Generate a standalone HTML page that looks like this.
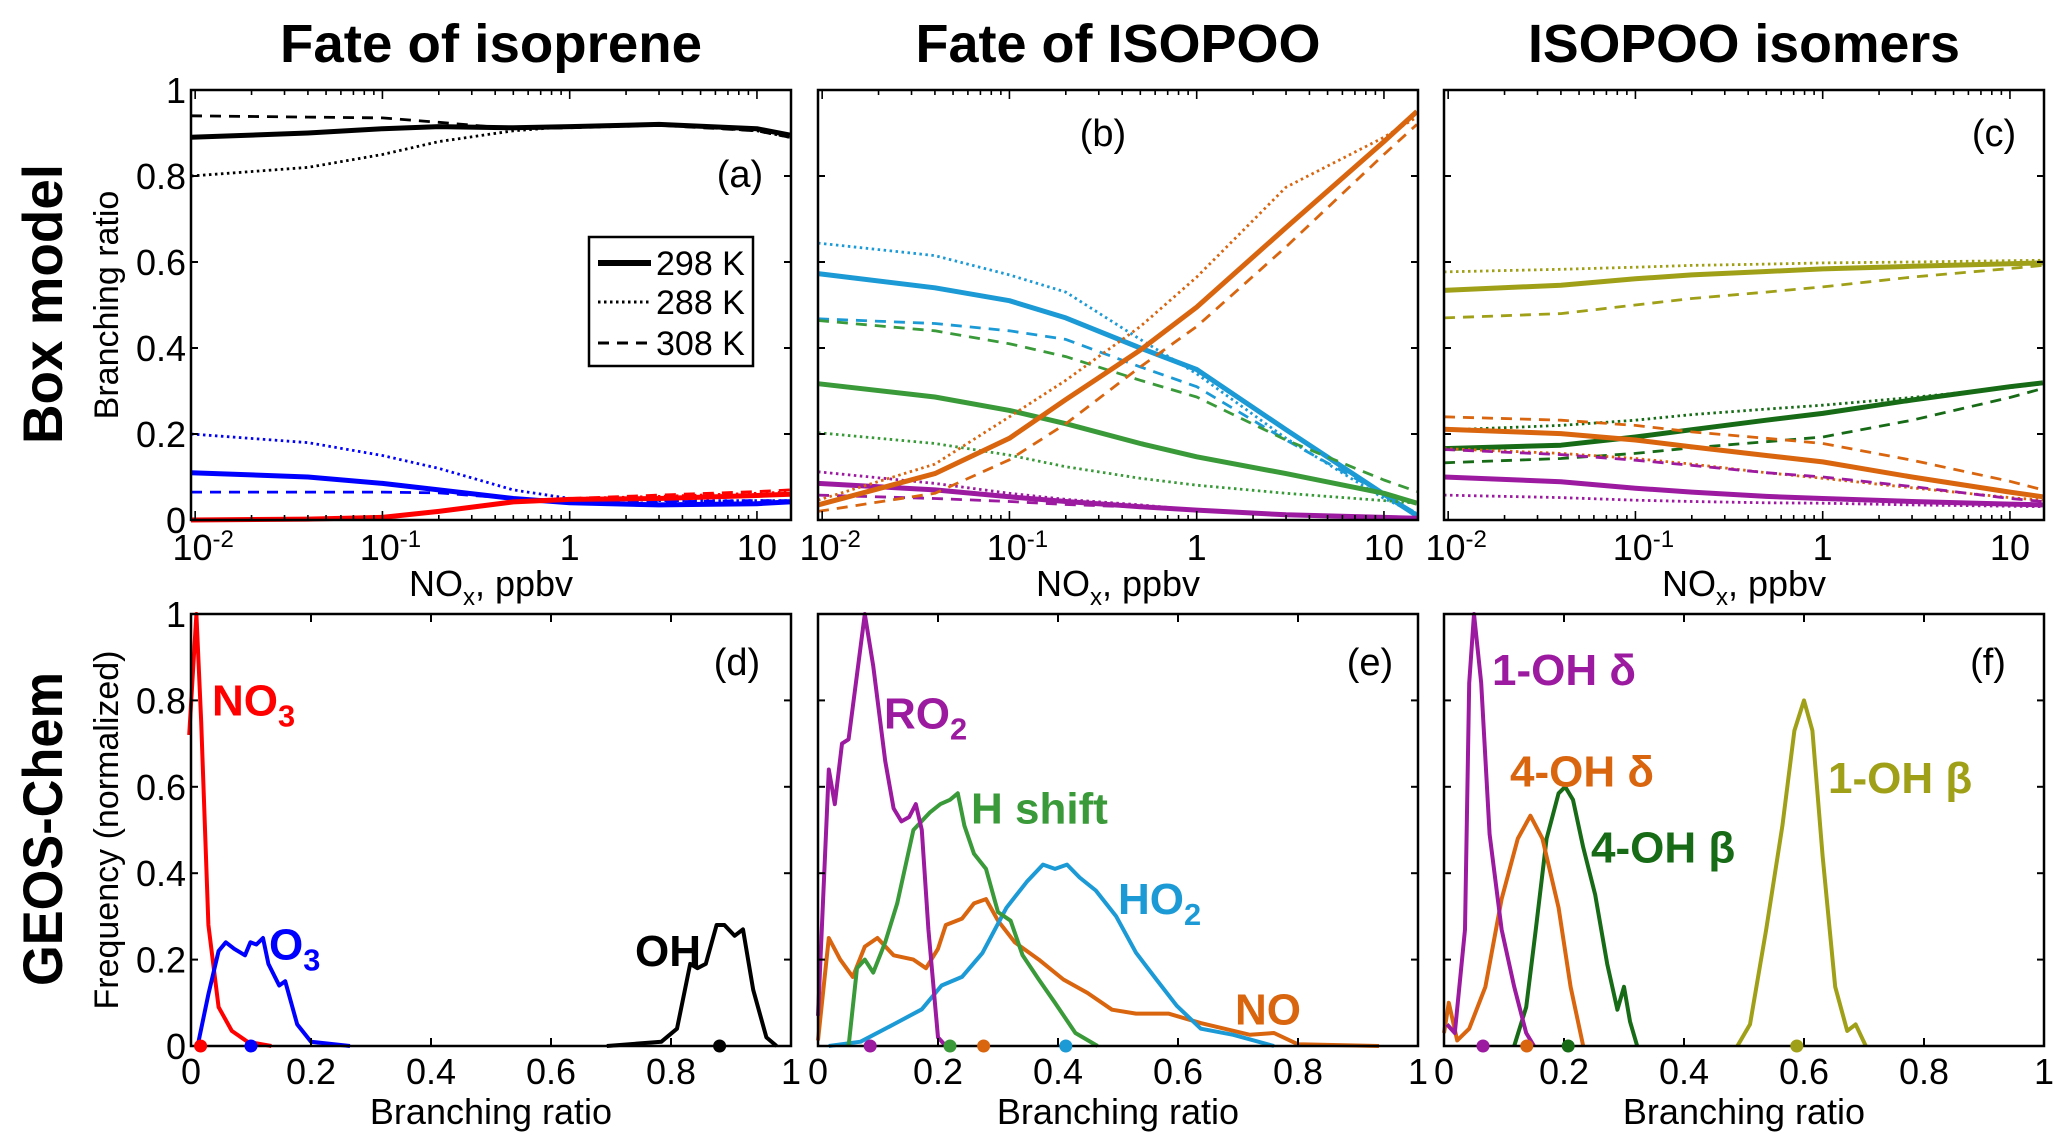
<!DOCTYPE html>
<html><head><meta charset="utf-8"><style>
html,body{margin:0;padding:0;background:#fff;}
svg{display:block;font-family:"Liberation Sans Narrow","Liberation Sans",sans-serif;}
</style></head><body>
<svg id="fig" width="2067" height="1146" viewBox="0 0 2067 1146" xmlns="http://www.w3.org/2000/svg"></svg>
<script>
// ---------- data ----------
const noxGrid = [0.0095, 0.04, 0.1, 0.2, 0.5, 1, 3, 10, 15];
// panel a
const aOHsolid  = [0.89,0.90,0.91,0.915,0.912,0.915,0.92,0.91,0.895];
const aOHdot    = [0.80,0.82,0.85,0.88,0.905,0.915,0.92,0.905,0.89];
const aOHdash   = [0.94,0.937,0.935,0.925,0.91,0.912,0.918,0.905,0.89];
const aO3solid  = [0.11,0.10,0.085,0.07,0.05,0.04,0.035,0.038,0.042];
const aO3dot    = [0.20,0.18,0.15,0.12,0.07,0.05,0.045,0.045,0.045];
const aO3dash   = [0.065,0.065,0.065,0.063,0.05,0.045,0.042,0.045,0.045];
const aNO3solid = [0.0,0.002,0.006,0.02,0.042,0.048,0.05,0.057,0.06];
const aNO3dot   = [0.0,0.002,0.006,0.02,0.042,0.05,0.055,0.062,0.065];
const aNO3dash  = [0.0,0.002,0.006,0.02,0.042,0.05,0.058,0.066,0.07];
// panel b
const bHO2solid = [.573,.54,.51,.47,.40,.35,.21,.06,.01];
const bHO2dot   = [.644,.615,.57,.53,.42,.34,.19,.05,.015];
const bHO2dash  = [.468,.457,.44,.42,.356,.31,.186,.06,.015];
const bHsolid   = [.317,.286,.255,.224,.178,.147,.108,.062,.039];
const bHdot     = [.203,.178,.151,.124,.097,.081,.062,.045,.039];
const bHdash    = [.464,.44,.41,.38,.325,.286,.186,.093,.066];
const bRO2solid = [.085,.07,.054,.043,.031,.023,.012,.006,.004];
const bRO2dot   = [.112,.085,.062,.048,.035,.023,.012,.006,.004];
const bRO2dash  = [.058,.05,.043,.036,.03,.023,.012,.006,.004];
const bNOsolid  = [.035,.108,.19,.28,.395,.495,.68,.88,.95];
const bNOdot    = [.046,.13,.24,.325,.45,.565,.774,.89,.937];
const bNOdash   = [.02,.062,.14,.224,.356,.45,.635,.85,.92];
// panel c
const c1bSolid = [.534,.546,.561,.57,.578,.584,.59,.596,.598];
const c1bDot   = [.577,.583,.588,.592,.595,.598,.6,.603,.604];
const c1bDash  = [.47,.48,.50,.515,.53,.542,.565,.585,.592];
const c4bSolid = [.166,.174,.193,.21,.232,.248,.279,.31,.319];
const c4bDot   = [.209,.22,.232,.245,.258,.267,.285,.308,.317];
const c4bDash  = [.133,.143,.155,.168,.182,.193,.232,.285,.306];
const c4dSolid = [.211,.201,.186,.17,.15,.135,.1,.065,.054];
const c4dDot   = [.166,.155,.143,.13,.11,.097,.075,.052,.046];
const c4dDash  = [.24,.232,.22,.205,.19,.178,.139,.09,.07];
const c1dSolid = [.1,.089,.074,.065,.055,.05,.043,.037,.035];
const c1dDot   = [.058,.052,.046,.043,.04,.039,.035,.032,.031];
const c1dDash  = [.164,.152,.139,.127,.11,.1,.078,.05,.043];
// panel d
const dNO3x = [-0.003,0.009,0.017,0.029,0.046,0.068,0.094,0.134];
const dNO3y = [0.72,1.0,0.75,0.28,0.09,0.035,0.01,0.0];
const dO3x = [0.011,0.029,0.046,0.058,0.072,0.09,0.099,0.109,0.12,0.129,0.147,0.157,0.177,0.2,0.265];
const dO3y = [0,0.12,0.22,0.24,0.225,0.21,0.24,0.235,0.25,0.19,0.14,0.15,0.05,0.01,0];
const dOHx = [0.693,0.784,0.81,0.832,0.844,0.858,0.876,0.889,0.906,0.92,0.937,0.959,0.976];
const dOHy = [0,0.01,0.04,0.19,0.18,0.19,0.28,0.28,0.255,0.27,0.13,0.02,0];
const dMeans = [0.016,0.1,0.881];
// panel e
const eRO2x = [0,0.018,0.028,0.04,0.051,0.065,0.078,0.092,0.112,0.126,0.139,0.152,0.163,0.173,0.184,0.2,0.213];
const eRO2y = [0.07,0.64,0.56,0.70,0.71,0.86,1.0,0.88,0.66,0.55,0.52,0.53,0.56,0.50,0.27,0.02,0];
const eHx = [0.051,0.065,0.078,0.092,0.112,0.132,0.159,0.186,0.204,0.22,0.233,0.244,0.26,0.28,0.3,0.321,0.341,0.368,0.395,0.429,0.466];
const eHy = [0,0.18,0.2,0.17,0.24,0.33,0.5,0.54,0.56,0.57,0.585,0.51,0.445,0.41,0.31,0.29,0.21,0.154,0.1,0.03,0];
const eHO2x = [0.018,0.071,0.126,0.173,0.206,0.24,0.274,0.314,0.348,0.375,0.395,0.415,0.436,0.463,0.497,0.53,0.564,0.598,0.638,0.692,0.76];
const eHO2y = [0,0.01,0.05,0.085,0.14,0.16,0.215,0.32,0.38,0.42,0.41,0.42,0.39,0.36,0.3,0.216,0.154,0.093,0.04,0.026,0];
const eNOx = [0,0.018,0.037,0.058,0.078,0.099,0.126,0.159,0.18,0.2,0.213,0.24,0.26,0.28,0.3,0.328,0.368,0.409,0.449,0.49,0.53,0.584,0.638,0.72,0.76,0.8,0.935];
const eNOy = [0.013,0.25,0.2,0.16,0.23,0.25,0.21,0.2,0.18,0.225,0.28,0.295,0.33,0.34,0.29,0.24,0.2,0.154,0.123,0.084,0.075,0.075,0.053,0.026,0.03,0.004,0];
const eMeans = [0.087,0.22,0.276,0.413];
// panel f
const f1dx = [0.005,0.018,0.035,0.042,0.05,0.062,0.076,0.096,0.117,0.137,0.15];
const f1dy = [0.05,0.03,0.27,0.84,1.0,0.84,0.49,0.27,0.137,0.03,0];
const f4dx = [0,0.008,0.022,0.042,0.069,0.096,0.123,0.144,0.164,0.191,0.211,0.232];
const f4dy = [0.03,0.1,0.013,0.04,0.137,0.34,0.48,0.533,0.48,0.32,0.137,0];
const f4bx = [0.117,0.137,0.153,0.171,0.191,0.202,0.215,0.232,0.252,0.272,0.289,0.3,0.31,0.322];
const f4by = [0,0.09,0.27,0.48,0.585,0.6,0.57,0.46,0.35,0.19,0.084,0.137,0.057,0];
const f1bx = [0.489,0.51,0.537,0.564,0.584,0.6,0.614,0.631,0.652,0.672,0.686,0.703];
const f1by = [0,0.05,0.27,0.51,0.73,0.8,0.73,0.44,0.137,0.035,0.05,0];
const fMeans = [0.065,0.138,0.207,0.588];

const yTicks = [0,0.2,0.4,0.6,0.8,1];
const yTickLabels = ["0","0.2","0.4","0.6","0.8","1"];
const xLinTicks = [0,0.2,0.4,0.6,0.8,1];
const xLinTickLabels = ["0","0.2","0.4","0.6","0.8","1"];

// ---------- drawing ----------
const NS = "http://www.w3.org/2000/svg";
const svg = document.getElementById('fig');
function el(tag, attrs, parent, text){
  const e = document.createElementNS(NS, tag);
  for (const k in attrs) e.setAttribute(k, attrs[k]);
  if (text !== undefined) e.textContent = text;
  (parent||svg).appendChild(e);
  return e;
}
const colL = [191, 818, 1444], W = 600;
const topY = [90, 614], H = [430, 432];
const LMIN = Math.log10(0.0095), LMAX = Math.log10(15.2);
function logX(p, v){ return colL[p] + (Math.log10(v)-LMIN)/(LMAX-LMIN)*W; }
function linX(p, v){ return colL[p] + v*W; }
function yS(r, v){ return topY[r] + H[r] - v*H[r]; }
const dashes = {solid:"", dot:"2.5 3.5", dash:"11 8"};
const TF = 36;

function frame(p, r, name){
  const g = el('g', {}, svg);
  
  
  return g;
}
function axesBox(g, p, r){
  const x0 = colL[p], y0 = topY[r];
  const b = el('rect', {x:x0, y:y0, width:W, height:H[r], fill:'none', stroke:'#000', 'stroke-width':2.5}, g);
   
  yTicks.forEach((t,i)=>{
    const y = yS(r,t);
    el('line',{x1:x0,y1:y,x2:x0+7,y2:y,stroke:'#000','stroke-width':2},g);
    el('line',{x1:x0+W,y1:y,x2:x0+W-7,y2:y,stroke:'#000','stroke-width':2},g);
    if (p===0){
      const tl = el('text',{x:x0-5,y:y+13,'text-anchor':'end','font-size':TF,fill:'#000'},g,yTickLabels[i]);
       
    }
  });
}
function logAxis(g, p){
  const yb = yS(0,0), yt = topY[0];
  for (let e=-3; e<=1; e++){
    for (let m=1;m<=9;m++){
      const v = m*Math.pow(10,e);
      if (v < 0.0095 || v > 15.2) continue;
      const x = logX(p,v), len = m===1?9:5;
      el('line',{x1:x,y1:yb,x2:x,y2:yb-len,stroke:'#000','stroke-width':1.6},g);
      el('line',{x1:x,y1:yt,x2:x,y2:yt+len,stroke:'#000','stroke-width':1.6},g);
    }
  }
  const labs = [[0.01,'10','-2'],[0.1,'10','-1'],[1,'1',''],[10,'10','']];
  labs.forEach(l=>{
    const x = logX(p,l[0]);
    const t = el('text',{x:x+(l[2]?8:0),y:yb+40,'text-anchor':'middle','font-size':TF},g);
     
    el('tspan',{},t,l[1]);
    if(l[2]) el('tspan',{dy:-13,'font-size':24},t,l[2]);
  });
  const xl = el('text',{x:colL[p]+W/2,y:yb+76,'text-anchor':'middle','font-size':TF},g);
   
  el('tspan',{},xl,'NO');
  el('tspan',{dy:9,'font-size':24},xl,'x');
  el('tspan',{dy:-9},xl,', ppbv');
}
function linAxis(g, p){
  const yb = yS(1,0), yt = topY[1];
  xLinTicks.forEach((t,i)=>{
    const x = linX(p,t);
    el('line',{x1:x,y1:yb,x2:x,y2:yb-8,stroke:'#000','stroke-width':2},g);
    el('line',{x1:x,y1:yt,x2:x,y2:yt+8,stroke:'#000','stroke-width':2},g);
    const tl = el('text',{x:x,y:yb+38,'text-anchor':'middle','font-size':TF},g,xLinTickLabels[i]);
     
  });
  const xl = el('text',{x:colL[p]+W/2,y:yb+78,'text-anchor':'middle','font-size':TF},g,'Branching ratio');
   
}
function logSeries(g, p, ys, color, style, name){
  const pts = ys.map((v,i)=>logX(p,noxGrid[i]).toFixed(1)+','+yS(0,v).toFixed(1)).join(' ');
  const l = el('polyline',{points:pts,fill:'none',stroke:color,'stroke-width':style==='solid'?5:2.8,'stroke-dasharray':dashes[style],'stroke-linejoin':'round'},g);
  
  
}
function linSeries(g, p, xs, ys, color, name){
  const pts = xs.map((x,i)=>linX(p,x).toFixed(1)+','+yS(1,ys[i]).toFixed(1)).join(' ');
  const l = el('polyline',{points:pts,fill:'none',stroke:color,'stroke-width':4,'stroke-linejoin':'round'},g);
  
  
}
function meanDots(g, p, means, colors){
  means.forEach((m,i)=>{
    const c = el('circle',{cx:linX(p,m),cy:yS(1,0),r:6.5,fill:colors[i]},g);
    
    
  });
}
function label(g, x, y, txt, sub, color, size, name){
  const t = el('text',{x:x,y:y,'font-size':size,'font-weight':'bold',fill:color},g);
   
  el('tspan',{},t,txt);
  if (sub) el('tspan',{dy:11,'font-size':size*0.7},t,sub);
  return t;
}
function panelLetter(g, x, y, txt){
  const t = el('text',{x:x,y:y,'text-anchor':'middle','font-size':38},g,txt);
   
}

const BLK='#000', BLU='#0000ff', RED='#ff0000';
const SKY='#1b9ad6', GRN='#3a9a3a', PUR='#9c1aa0', ORG='#d9650f';
const OLV='#a0a018', DGR='#176b17';

// titles
[['Fate of isoprene',0,422],['Fate of ISOPOO',1,405],['ISOPOO isomers',2,432]].forEach(t=>{
  const e = el('text',{x:colL[t[1]]+W/2,y:62,'text-anchor':'middle','font-size':54,'font-weight':'bold',textLength:t[2],lengthAdjust:'spacingAndGlyphs'},svg,t[0]);
   
});
const rl1 = el('text',{x:0,y:0,'text-anchor':'middle','font-size':56,'font-weight':'bold',textLength:280,lengthAdjust:'spacingAndGlyphs',transform:'translate(62,304) rotate(-90)'},svg,'Box model');
 
const rl2 = el('text',{x:0,y:0,'text-anchor':'middle','font-size':56,'font-weight':'bold',textLength:314,lengthAdjust:'spacingAndGlyphs',transform:'translate(62,829) rotate(-90)'},svg,'GEOS-Chem');
 
const yl1 = el('text',{x:0,y:0,'text-anchor':'middle','font-size':34,transform:'translate(118,305) rotate(-90)'},svg,'Branching ratio');
 
const yl2 = el('text',{x:0,y:0,'text-anchor':'middle','font-size':34,transform:'translate(118,830) rotate(-90)'},svg,'Frequency (normalized)');
 

// panel a
let g = frame(0,0,'panel-a');
logSeries(g,0,aOHsolid,BLK,'solid','oh-298k'); logSeries(g,0,aOHdot,BLK,'dot','oh-288k'); logSeries(g,0,aOHdash,BLK,'dash','oh-308k');
logSeries(g,0,aO3solid,BLU,'solid','o3-298k'); logSeries(g,0,aO3dot,BLU,'dot','o3-288k'); logSeries(g,0,aO3dash,BLU,'dash','o3-308k');
logSeries(g,0,aNO3solid,RED,'solid','no3-298k'); logSeries(g,0,aNO3dot,RED,'dot','no3-288k'); logSeries(g,0,aNO3dash,RED,'dash','no3-308k');
axesBox(g,0,0); logAxis(g,0); panelLetter(g,740,187,'(a)');
const lg = el('g',{},g);  
el('rect',{x:589,y:237,width:164,height:129,fill:'#fff',stroke:'#000','stroke-width':2.5},lg);
[['solid','298 K',263],['dot','288 K',302],['dash','308 K',343]].forEach(e=>{
  const le = el('g',{},lg);  
  el('line',{x1:598,y1:e[2],x2:651,y2:e[2],stroke:'#000','stroke-width':e[0]==='solid'?6:3,'stroke-dasharray':dashes[e[0]]},le);
  el('text',{x:656,y:e[2]+12,'font-size':34},le,e[1]);
});

// panel b
g = frame(1,0,'panel-b');
logSeries(g,1,bHO2solid,SKY,'solid','ho2-298k'); logSeries(g,1,bHO2dot,SKY,'dot','ho2-288k'); logSeries(g,1,bHO2dash,SKY,'dash','ho2-308k');
logSeries(g,1,bHsolid,GRN,'solid','hshift-298k'); logSeries(g,1,bHdot,GRN,'dot','hshift-288k'); logSeries(g,1,bHdash,GRN,'dash','hshift-308k');
logSeries(g,1,bRO2solid,PUR,'solid','ro2-298k'); logSeries(g,1,bRO2dot,PUR,'dot','ro2-288k'); logSeries(g,1,bRO2dash,PUR,'dash','ro2-308k');
logSeries(g,1,bNOsolid,ORG,'solid','no-298k'); logSeries(g,1,bNOdot,ORG,'dot','no-288k'); logSeries(g,1,bNOdash,ORG,'dash','no-308k');
axesBox(g,1,0); logAxis(g,1); panelLetter(g,1103,146,'(b)');

// panel c
g = frame(2,0,'panel-c');
logSeries(g,2,c1bSolid,OLV,'solid','1oh-beta-298k'); logSeries(g,2,c1bDot,OLV,'dot','1oh-beta-288k'); logSeries(g,2,c1bDash,OLV,'dash','1oh-beta-308k');
logSeries(g,2,c4bSolid,DGR,'solid','4oh-beta-298k'); logSeries(g,2,c4bDot,DGR,'dot','4oh-beta-288k'); logSeries(g,2,c4bDash,DGR,'dash','4oh-beta-308k');
logSeries(g,2,c4dSolid,ORG,'solid','4oh-delta-298k'); logSeries(g,2,c4dDot,ORG,'dot','4oh-delta-288k'); logSeries(g,2,c4dDash,ORG,'dash','4oh-delta-308k');
logSeries(g,2,c1dSolid,PUR,'solid','1oh-delta-298k'); logSeries(g,2,c1dDot,PUR,'dot','1oh-delta-288k'); logSeries(g,2,c1dDash,PUR,'dash','1oh-delta-308k');
axesBox(g,2,0); logAxis(g,2); panelLetter(g,1994,146,'(c)');

// panel d
g = frame(0,1,'panel-d');
linSeries(g,0,dNO3x,dNO3y,RED,'no3-histogram'); linSeries(g,0,dO3x,dO3y,BLU,'o3-histogram'); linSeries(g,0,dOHx,dOHy,BLK,'oh-histogram');
axesBox(g,0,1); linAxis(g,0); meanDots(g,0,dMeans,[RED,BLU,BLK]); panelLetter(g,737,675,'(d)');
label(g,linX(0,0.035),yS(1,0.80)+15,'NO','3',RED,44,'no3-label');
label(g,linX(0,0.13),yS(1,0.235)+15,'O','3',BLU,44,'o3-label');
label(g,linX(0,0.74),yS(1,0.22)+15,'OH','',BLK,44,'oh-label');

// panel e
g = frame(1,1,'panel-e');
linSeries(g,1,eNOx,eNOy,ORG,'no-histogram'); linSeries(g,1,eHO2x,eHO2y,SKY,'ho2-histogram');
linSeries(g,1,eHx,eHy,GRN,'hshift-histogram'); linSeries(g,1,eRO2x,eRO2y,PUR,'ro2-histogram');
axesBox(g,1,1); linAxis(g,1); meanDots(g,1,eMeans,[PUR,GRN,ORG,SKY]); panelLetter(g,1370,675,'(e)');
label(g,linX(1,0.11),yS(1,0.77)+15,'RO','2',PUR,44,'ro2-label');
label(g,linX(1,0.255),yS(1,0.55)+15,'H shift','',GRN,44,'hshift-label');
label(g,linX(1,0.5),yS(1,0.34)+15,'HO','2',SKY,44,'ho2-label');
label(g,linX(1,0.695),yS(1,0.085)+15,'NO','',ORG,44,'no-label');

// panel f
g = frame(2,1,'panel-f');
linSeries(g,2,f1bx,f1by,OLV,'1oh-beta-histogram'); linSeries(g,2,f4bx,f4by,DGR,'4oh-beta-histogram');
linSeries(g,2,f4dx,f4dy,ORG,'4oh-delta-histogram'); linSeries(g,2,f1dx,f1dy,PUR,'1oh-delta-histogram');
axesBox(g,2,1); linAxis(g,2); meanDots(g,2,fMeans,[PUR,ORG,DGR,OLV]); panelLetter(g,1988,675,'(f)');
label(g,linX(2,0.08),yS(1,0.87)+15,'1-OH δ','',PUR,44,'1oh-delta-label');
label(g,linX(2,0.11),yS(1,0.635)+15,'4-OH δ','',ORG,44,'4oh-delta-label');
label(g,linX(2,0.245),yS(1,0.46)+15,'4-OH β','',DGR,44,'4oh-beta-label');
label(g,linX(2,0.64),yS(1,0.62)+15,'1-OH β','',OLV,44,'1oh-beta-label');
</script>
</body></html>
